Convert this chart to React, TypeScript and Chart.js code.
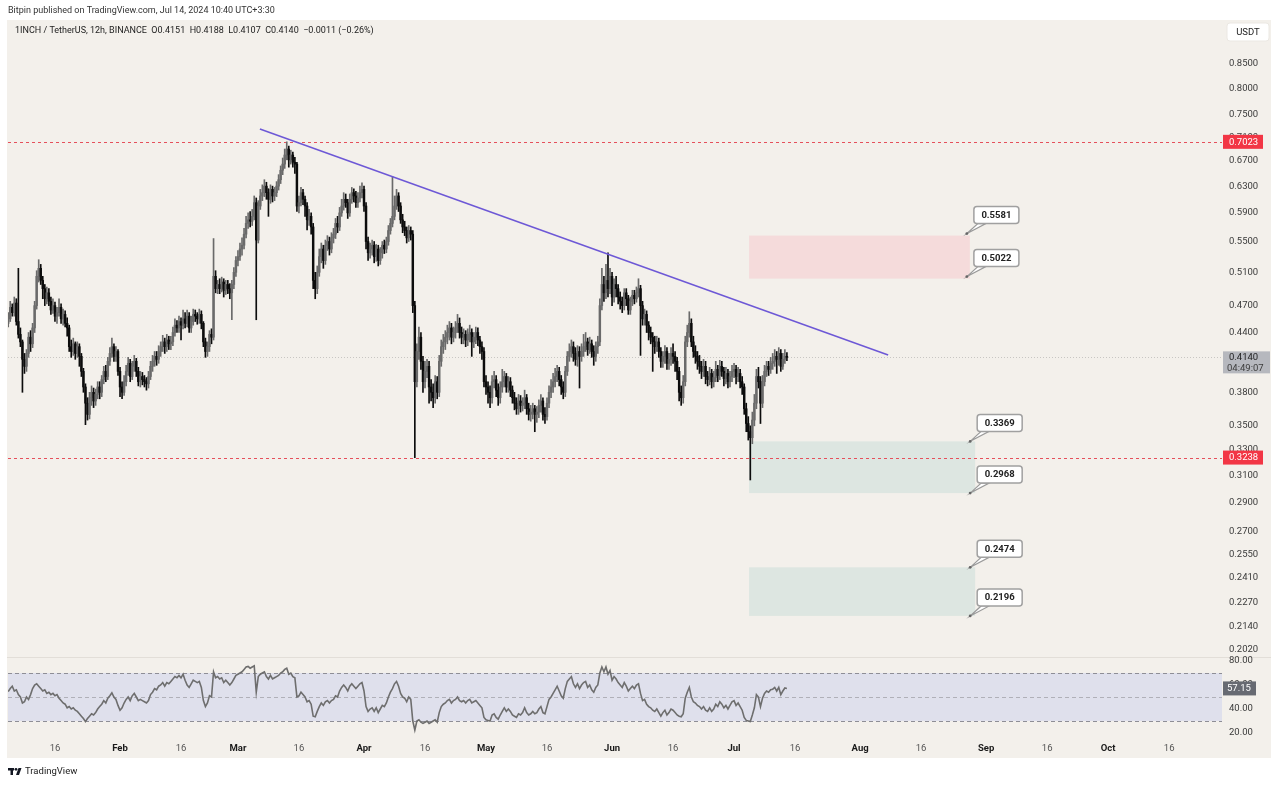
import React, { useEffect, useRef } from 'react';
import { Chart, registerables } from 'chart.js';

Chart.register(...registerables);

// ---- DATA (12h candles, day 0 = Jan 1 2024) ----
const FIRST_DAY = 3.5;
const BAR_DAYS = 0.5;
const firstOpen = 0.45;

const closes = [
  0.455, 0.468, 0.462, 0.473, 0.452, 0.438, 0.430, 0.412, 0.405, 0.418,
  0.435, 0.428, 0.445, 0.470, 0.505, 0.515, 0.500, 0.490, 0.478, 0.485,
  0.475, 0.465, 0.470, 0.458, 0.462, 0.468, 0.455, 0.460, 0.450, 0.445,
  0.425, 0.420, 0.428, 0.418, 0.425, 0.415, 0.400, 0.385, 0.370, 0.360,
  0.375, 0.380, 0.372, 0.378, 0.385, 0.380, 0.392, 0.400, 0.395, 0.410,
  0.418, 0.425, 0.415, 0.420, 0.400, 0.385, 0.380, 0.390, 0.400, 0.408,
  0.395, 0.405, 0.410, 0.400, 0.390, 0.395, 0.392, 0.390, 0.388, 0.395,
  0.405, 0.410, 0.415, 0.412, 0.420, 0.425, 0.430, 0.425, 0.432, 0.428,
  0.430, 0.440, 0.448, 0.445, 0.452, 0.448, 0.455, 0.450, 0.458, 0.445,
  0.452, 0.460, 0.458, 0.455, 0.460, 0.450, 0.430, 0.420, 0.425, 0.438,
  0.435, 0.505, 0.490, 0.495, 0.490, 0.498, 0.488, 0.495, 0.490, 0.485,
  0.495, 0.510, 0.525, 0.530, 0.540, 0.545, 0.560, 0.575, 0.580, 0.578,
  0.585, 0.605, 0.552, 0.600, 0.615, 0.620, 0.630, 0.620, 0.610, 0.625,
  0.615, 0.620, 0.630, 0.640, 0.655, 0.665, 0.680, 0.690, 0.672, 0.680,
  0.668, 0.665, 0.600, 0.605, 0.620, 0.610, 0.600, 0.580, 0.585, 0.570,
  0.500, 0.490, 0.510, 0.530, 0.540, 0.525, 0.545, 0.550, 0.540, 0.555,
  0.560, 0.575, 0.570, 0.590, 0.600, 0.610, 0.605, 0.590, 0.610, 0.620,
  0.615, 0.605, 0.612, 0.620, 0.625, 0.600, 0.550, 0.535, 0.540, 0.545,
  0.530, 0.540, 0.525, 0.535, 0.545, 0.540, 0.550, 0.565, 0.575, 0.585,
  0.600, 0.615, 0.600, 0.580, 0.570, 0.565, 0.555, 0.565, 0.560, 0.470,
  0.390, 0.420, 0.435, 0.410, 0.390, 0.400, 0.405, 0.385, 0.380, 0.375,
  0.390, 0.380, 0.410, 0.425, 0.430, 0.435, 0.440, 0.445, 0.435, 0.440,
  0.445, 0.450, 0.440, 0.435, 0.438, 0.432, 0.438, 0.440, 0.430, 0.435,
  0.440, 0.432, 0.425, 0.420, 0.390, 0.385, 0.380, 0.375, 0.390, 0.392,
  0.382, 0.375, 0.385, 0.390, 0.395, 0.385, 0.390, 0.382, 0.375, 0.370,
  0.365, 0.372, 0.368, 0.370, 0.375, 0.365, 0.360, 0.362, 0.365, 0.360,
  0.362, 0.368, 0.372, 0.360, 0.358, 0.370, 0.380, 0.385, 0.390, 0.395,
  0.400, 0.392, 0.385, 0.380, 0.400, 0.415, 0.420, 0.425, 0.418, 0.412,
  0.420, 0.415, 0.420, 0.425, 0.430, 0.422, 0.428, 0.420, 0.415, 0.425,
  0.430, 0.470, 0.495, 0.485, 0.500, 0.490, 0.505, 0.480, 0.495, 0.490,
  0.480, 0.475, 0.470, 0.485, 0.478, 0.465, 0.475, 0.482, 0.478, 0.485,
  0.490, 0.470, 0.455, 0.460, 0.448, 0.440, 0.435, 0.430, 0.425, 0.430,
  0.420, 0.410, 0.415, 0.420, 0.408, 0.412, 0.418, 0.415, 0.410, 0.400,
  0.380, 0.375, 0.390, 0.430, 0.440, 0.450, 0.430, 0.420, 0.415, 0.410,
  0.405, 0.400, 0.405, 0.395, 0.392, 0.398, 0.390, 0.394, 0.402, 0.396,
  0.405, 0.400, 0.393, 0.398, 0.390, 0.395, 0.400, 0.402, 0.395, 0.398,
  0.390, 0.385, 0.365, 0.352, 0.345, 0.340, 0.355, 0.370, 0.395, 0.390,
  0.370, 0.390, 0.400, 0.405, 0.402, 0.408, 0.410, 0.415, 0.412, 0.418,
  0.405, 0.412, 0.4151, 0.4140,
];

const highs = [
  0.462, 0.475, 0.472, 0.480, 0.478, 0.515, 0.445, 0.432, 0.418, 0.422,
  0.440, 0.442, 0.450, 0.475, 0.512, 0.526, 0.520, 0.505, 0.495, 0.492,
  0.490, 0.480, 0.478, 0.474, 0.468, 0.478, 0.472, 0.466, 0.464, 0.456,
  0.448, 0.432, 0.434, 0.430, 0.430, 0.428, 0.418, 0.403, 0.388, 0.375,
  0.380, 0.386, 0.384, 0.383, 0.390, 0.390, 0.396, 0.405, 0.406, 0.414,
  0.424, 0.434, 0.428, 0.425, 0.422, 0.404, 0.390, 0.396, 0.406, 0.414,
  0.412, 0.410, 0.416, 0.413, 0.404, 0.400, 0.399, 0.396, 0.394, 0.400,
  0.410, 0.416, 0.420, 0.420, 0.426, 0.430, 0.437, 0.434, 0.438, 0.436,
  0.436, 0.446, 0.455, 0.453, 0.458, 0.456, 0.465, 0.462, 0.465, 0.462,
  0.458, 0.466, 0.465, 0.462, 0.466, 0.464, 0.452, 0.434, 0.430, 0.442,
  0.444, 0.554, 0.512, 0.500, 0.502, 0.504, 0.502, 0.500, 0.500, 0.496,
  0.500, 0.516, 0.530, 0.538, 0.548, 0.555, 0.568, 0.585, 0.590, 0.592,
  0.595, 0.615, 0.612, 0.608, 0.625, 0.632, 0.640, 0.636, 0.626, 0.632,
  0.630, 0.628, 0.637, 0.648, 0.662, 0.675, 0.690, 0.7023, 0.695, 0.688,
  0.685, 0.676, 0.668, 0.615, 0.628, 0.625, 0.615, 0.605, 0.595, 0.590,
  0.575, 0.510, 0.518, 0.540, 0.548, 0.545, 0.552, 0.558, 0.556, 0.562,
  0.568, 0.582, 0.585, 0.598, 0.610, 0.620, 0.618, 0.610, 0.618, 0.628,
  0.626, 0.622, 0.620, 0.630, 0.635, 0.630, 0.605, 0.556, 0.548, 0.552,
  0.550, 0.546, 0.545, 0.542, 0.550, 0.552, 0.556, 0.572, 0.582, 0.645,
  0.615, 0.625, 0.620, 0.605, 0.588, 0.578, 0.570, 0.572, 0.570, 0.565,
  0.475, 0.428, 0.446, 0.440, 0.415, 0.410, 0.412, 0.410, 0.392, 0.388,
  0.396, 0.395, 0.416, 0.432, 0.438, 0.442, 0.448, 0.452, 0.450, 0.446,
  0.452, 0.460, 0.456, 0.446, 0.444, 0.442, 0.444, 0.448, 0.444, 0.440,
  0.446, 0.445, 0.436, 0.430, 0.424, 0.396, 0.390, 0.386, 0.396, 0.400,
  0.396, 0.388, 0.390, 0.402, 0.400, 0.398, 0.395, 0.394, 0.386, 0.380,
  0.375, 0.378, 0.377, 0.375, 0.382, 0.378, 0.370, 0.368, 0.370, 0.368,
  0.367, 0.373, 0.378, 0.375, 0.366, 0.375, 0.386, 0.392, 0.398, 0.403,
  0.406, 0.404, 0.396, 0.390, 0.405, 0.420, 0.428, 0.432, 0.430, 0.424,
  0.426, 0.425, 0.428, 0.438, 0.440, 0.434, 0.435, 0.432, 0.426, 0.430,
  0.436, 0.478, 0.515, 0.505, 0.520, 0.535, 0.515, 0.510, 0.502, 0.505,
  0.495, 0.486, 0.480, 0.490, 0.490, 0.482, 0.480, 0.488, 0.488, 0.492,
  0.502, 0.494, 0.475, 0.466, 0.464, 0.452, 0.446, 0.440, 0.436, 0.436,
  0.434, 0.424, 0.420, 0.426, 0.424, 0.418, 0.424, 0.428, 0.420, 0.414,
  0.404, 0.386, 0.396, 0.436, 0.448, 0.463, 0.455, 0.436, 0.426, 0.420,
  0.416, 0.410, 0.412, 0.410, 0.400, 0.404, 0.402, 0.400, 0.410, 0.406,
  0.411, 0.410, 0.404, 0.404, 0.402, 0.400, 0.406, 0.408, 0.406, 0.404,
  0.402, 0.395, 0.388, 0.370, 0.358, 0.350, 0.362, 0.378, 0.402, 0.404,
  0.395, 0.396, 0.406, 0.410, 0.410, 0.414, 0.418, 0.422, 0.420, 0.424,
  0.422, 0.418, 0.422, 0.4188,
];

const lows = [
  0.446, 0.452, 0.458, 0.458, 0.448, 0.434, 0.425, 0.380, 0.398, 0.400,
  0.414, 0.420, 0.424, 0.440, 0.466, 0.498, 0.495, 0.478, 0.470, 0.472,
  0.470, 0.460, 0.461, 0.452, 0.450, 0.458, 0.450, 0.448, 0.446, 0.436,
  0.420, 0.414, 0.416, 0.412, 0.414, 0.405, 0.395, 0.380, 0.351, 0.355,
  0.356, 0.368, 0.366, 0.368, 0.374, 0.374, 0.376, 0.388, 0.390, 0.392,
  0.406, 0.414, 0.410, 0.410, 0.396, 0.376, 0.374, 0.377, 0.386, 0.396,
  0.390, 0.392, 0.400, 0.395, 0.386, 0.385, 0.387, 0.385, 0.382, 0.384,
  0.392, 0.400, 0.405, 0.406, 0.408, 0.415, 0.420, 0.418, 0.420, 0.422,
  0.422, 0.426, 0.436, 0.440, 0.440, 0.432, 0.444, 0.445, 0.446, 0.440,
  0.440, 0.448, 0.452, 0.449, 0.450, 0.444, 0.425, 0.414, 0.415, 0.420,
  0.428, 0.432, 0.485, 0.484, 0.484, 0.486, 0.480, 0.483, 0.484, 0.478,
  0.454, 0.490, 0.505, 0.518, 0.525, 0.532, 0.540, 0.555, 0.568, 0.570,
  0.572, 0.580, 0.454, 0.548, 0.595, 0.608, 0.614, 0.610, 0.585, 0.604,
  0.606, 0.608, 0.614, 0.624, 0.634, 0.648, 0.658, 0.672, 0.660, 0.665,
  0.660, 0.650, 0.592, 0.590, 0.600, 0.602, 0.585, 0.566, 0.572, 0.560,
  0.490, 0.478, 0.484, 0.505, 0.522, 0.515, 0.520, 0.538, 0.532, 0.535,
  0.548, 0.554, 0.562, 0.565, 0.585, 0.594, 0.598, 0.582, 0.585, 0.604,
  0.606, 0.598, 0.598, 0.606, 0.612, 0.592, 0.540, 0.525, 0.528, 0.532,
  0.522, 0.524, 0.518, 0.520, 0.528, 0.534, 0.535, 0.545, 0.560, 0.570,
  0.580, 0.595, 0.592, 0.575, 0.562, 0.558, 0.548, 0.550, 0.552, 0.462,
  0.3238, 0.385, 0.412, 0.402, 0.380, 0.384, 0.394, 0.370, 0.372, 0.366,
  0.370, 0.374, 0.376, 0.405, 0.418, 0.422, 0.428, 0.432, 0.428, 0.430,
  0.434, 0.440, 0.434, 0.428, 0.428, 0.425, 0.426, 0.430, 0.415, 0.424,
  0.428, 0.426, 0.418, 0.412, 0.385, 0.378, 0.370, 0.366, 0.370, 0.384,
  0.376, 0.368, 0.370, 0.380, 0.385, 0.380, 0.380, 0.376, 0.370, 0.364,
  0.360, 0.360, 0.362, 0.363, 0.365, 0.360, 0.355, 0.354, 0.356, 0.345,
  0.353, 0.357, 0.362, 0.355, 0.352, 0.355, 0.366, 0.375, 0.380, 0.385,
  0.390, 0.386, 0.378, 0.374, 0.376, 0.396, 0.410, 0.414, 0.410, 0.406,
  0.405, 0.384, 0.410, 0.415, 0.420, 0.416, 0.418, 0.414, 0.406, 0.410,
  0.418, 0.426, 0.465, 0.475, 0.478, 0.480, 0.484, 0.470, 0.474, 0.480,
  0.472, 0.466, 0.462, 0.465, 0.470, 0.460, 0.460, 0.470, 0.472, 0.474,
  0.480, 0.416, 0.448, 0.448, 0.440, 0.432, 0.428, 0.400, 0.418, 0.420,
  0.414, 0.404, 0.404, 0.408, 0.402, 0.402, 0.406, 0.408, 0.400, 0.392,
  0.372, 0.368, 0.370, 0.386, 0.425, 0.435, 0.425, 0.414, 0.408, 0.402,
  0.398, 0.393, 0.395, 0.388, 0.386, 0.387, 0.384, 0.385, 0.390, 0.390,
  0.392, 0.395, 0.386, 0.388, 0.384, 0.385, 0.390, 0.394, 0.388, 0.390,
  0.384, 0.378, 0.360, 0.345, 0.338, 0.3065, 0.335, 0.350, 0.365, 0.384,
  0.352, 0.366, 0.386, 0.395, 0.396, 0.398, 0.402, 0.405, 0.398, 0.406,
  0.400, 0.402, 0.408, 0.4107,
];

const rsiValues = [
  54.5, 57, 59, 55, 56, 52, 50, 45, 46, 50,
  48, 52, 57, 60, 61, 59, 57, 55, 56, 53,
  54, 52, 53, 51, 52, 49, 47, 45, 44, 41,
  42, 40, 41, 39, 38, 36, 34, 32, 29.5, 32,
  34, 36, 35, 37, 40, 42, 44, 47, 45, 49,
  51, 53.5, 50, 48, 43, 39, 41, 45, 48, 50,
  47, 51, 53, 50, 47, 48, 47, 46, 45, 47,
  52, 54, 57, 56, 59, 60, 62, 59, 62, 61,
  63, 65, 67, 66, 68, 66, 69, 64, 60, 58,
  61, 64, 63, 62, 63, 58, 47, 42, 45, 51,
  50, 71, 66, 67, 65, 66, 62, 64, 62, 60,
  62, 65, 68, 69, 70, 71, 73, 75, 75.5, 74,
  75, 76, 54, 67, 69, 70, 71, 67, 65, 68,
  65, 66, 67, 68, 70, 71, 73, 74, 69, 70,
  67, 66, 50, 51, 54, 52, 50, 46, 47, 44,
  34, 33.5, 38, 42, 45, 43, 46, 47, 45, 47,
  48, 51, 50, 55, 58, 60, 58, 55, 59, 61,
  59, 57, 59, 61, 62, 55, 42, 38, 40, 41,
  38, 41, 37, 40, 43, 42, 45, 50, 54, 57,
  61, 63, 59, 53, 50, 49, 46, 50, 48, 30,
  22.5, 30, 31, 29, 28, 29, 30, 28, 29, 30,
  31, 29, 37, 42, 44, 45, 47, 48, 45, 47,
  48, 50, 47, 46, 47, 45, 47, 48, 45, 46,
  47, 45, 43, 41, 33, 31, 30.5, 30, 35, 36,
  33, 31.5, 35, 38, 41, 38, 40, 38, 35, 34,
  33, 36, 35, 37, 41, 37, 35, 36, 38, 36,
  37, 40, 42, 37, 36, 42, 48, 50, 53, 56,
  59, 55, 51, 49, 57, 63, 65, 67, 61, 58,
  61, 57, 60, 62, 63, 58, 60, 56, 54, 58,
  60, 70, 75, 71, 75, 69, 72, 64, 67, 65,
  62, 60, 58, 62, 59, 55, 57, 59, 57, 60,
  61, 53, 47, 48, 44, 42, 41, 39, 38, 40,
  37, 34, 37, 39, 35, 37, 40, 39, 37, 35,
  34, 33.5, 36, 49, 54, 58, 50, 46, 45, 43,
  42, 40, 42, 39, 38, 41, 38, 40, 44, 42,
  46, 44, 41, 43, 40, 43, 46, 47, 43, 45,
  42, 39, 33, 30.5, 30, 29.5, 35, 41, 52, 50,
  42, 49, 53, 55, 54, 56, 56.5, 58, 55, 58,
  52, 55, 57.5, 57.15,
];

const xTickDays = [15, 31, 46, 60, 75, 91, 106, 121, 136, 152, 167, 182, 197, 213, 228, 244, 259, 274, 289];
const xTickLabels = ['16', 'Feb', '16', 'Mar', '16', 'Apr', '16', 'May', '16', 'Jun', '16', 'Jul', '16', 'Aug', '16', 'Sep', '16', 'Oct', '16'];
const priceTicks = [0.85, 0.8, 0.75, 0.71, 0.67, 0.63, 0.59, 0.55, 0.51, 0.47, 0.44, 0.38, 0.35, 0.33, 0.31, 0.29, 0.27, 0.255, 0.241, 0.227, 0.214, 0.202];
const rsiTicks = [80, 60, 40, 20];
const rsiBands = [70, 50, 30];

const levelLines = [0.7023, 0.3238];
const redZone = [0.5581, 0.5022];
const greenZones = [[0.3369, 0.2968], [0.2474, 0.2196]];
const zoneStartDay = 185.7;
const redZoneEndDay = 240.0;
const greenZoneEndDay = 241.3;
const trendLine = [[65.4, 0.7248], [219.9, 0.4164]];

const lastPrice = 0.414;
const countdown = '04:49:07';
const lastRsi = 57.15;

const headerText = 'Bitpin published on TradingView.com, Jul 14, 2024 10:40 UTC+3:30';
const symbolText = '1INCH / TetherUS, 12h, BINANCE  O0.4151  H0.4188  L0.4107  C0.4140  \u22120.0011 (\u22120.26%)';

// ---- STYLE ----
const BEIGE = '#f3f0eb';
const FONT = 'Roboto, "Open Sans", sans-serif';
const UP = '#6a6a6a';
const DOWN = '#0c0c0c';

const X_MIN = 3.45;
const X_MAX = 302;
const Y_MIN = 0.162;
const Y_MAX = 0.9468;
const RSI_MIN = 14.17;
const RSI_MAX = 614.17;

function drawCallout(ctx: CanvasRenderingContext2D, ax: number, ay: number, text: string) {
  const bx = ax + 7;
  const by = ay - 27;
  const w = 45;
  const h = 17;
  ctx.save();
  ctx.beginPath();
  ctx.moveTo(ax, ay);
  ctx.lineTo(bx + 4, by + h);
  ctx.lineTo(bx + 12, by + h);
  ctx.closePath();
  ctx.fillStyle = '#ffffff';
  ctx.fill();
  ctx.strokeStyle = '#9a9a9a';
  ctx.lineWidth = 1.2;
  ctx.stroke();
  ctx.beginPath();
  ctx.roundRect(bx, by, w, h, 3);
  ctx.fillStyle = '#ffffff';
  ctx.fill();
  ctx.lineWidth = 1.5;
  ctx.strokeStyle = '#a0a0a0';
  ctx.stroke();
  ctx.beginPath();
  ctx.arc(ax, ay, 1.4, 0, Math.PI * 2);
  ctx.fillStyle = '#666';
  ctx.fill();
  ctx.fillStyle = '#222';
  ctx.font = `bold 9.5px ${FONT}`;
  ctx.textAlign = 'center';
  ctx.textBaseline = 'middle';
  ctx.fillText(text, bx + w / 2, by + h / 2 + 0.5);
  ctx.restore();
}

const overlayPlugin = {
  id: 'overlay',
  beforeDraw(chart: any) {
    const ctx: CanvasRenderingContext2D = chart.ctx;
    ctx.save();
    ctx.fillStyle = '#ffffff';
    ctx.fillRect(0, 0, chart.width, chart.height);
    ctx.fillStyle = BEIGE;
    ctx.fillRect(7, 20, 1264, 738);
    ctx.fillStyle = '#333';
    ctx.font = `9px ${FONT}`;
    ctx.textBaseline = 'middle';
    ctx.textAlign = 'left';
    ctx.fillText(headerText, 8, 11);
    ctx.fillStyle = '#222';
    ctx.font = `9px ${FONT}`;
    ctx.fillText(symbolText, 15, 31);
    ctx.strokeStyle = '#e2ded8';
    ctx.lineWidth = 1;
    ctx.beginPath();
    ctx.moveTo(7, 657.5);
    ctx.lineTo(1271, 657.5);
    ctx.stroke();
    ctx.restore();
  },
  beforeDatasetsDraw(chart: any) {
    const ctx: CanvasRenderingContext2D = chart.ctx;
    const xs = chart.scales.x;
    const ys = chart.scales.y;
    const rs = chart.scales.yRsi;
    const area = chart.chartArea;
    ctx.save();
    const zx0 = xs.getPixelForValue(zoneStartDay);
    const rx1 = xs.getPixelForValue(redZoneEndDay);
    const gx1 = xs.getPixelForValue(greenZoneEndDay);
    ctx.fillStyle = '#f5dbdb';
    const ry0 = ys.getPixelForValue(redZone[0]);
    const ry1 = ys.getPixelForValue(redZone[1]);
    ctx.fillRect(zx0, ry0, rx1 - zx0, ry1 - ry0);
    ctx.fillStyle = '#dde6e1';
    greenZones.forEach(([a, b]) => {
      const y0 = ys.getPixelForValue(a);
      const y1 = ys.getPixelForValue(b);
      ctx.fillRect(zx0, y0, gx1 - zx0, y1 - y0);
    });
    const b70 = rs.getPixelForValue(rsiBands[0]);
    const b30 = rs.getPixelForValue(rsiBands[2]);
    ctx.fillStyle = '#dfe0ec';
    ctx.fillRect(area.left, b70, area.right - area.left, b30 - b70);
    ctx.setLineDash([4, 3]);
    ctx.lineWidth = 1;
    rsiBands.forEach((v, i) => {
      const y = Math.round(rs.getPixelForValue(v)) + 0.5;
      ctx.strokeStyle = i === 1 ? '#b0b0b8' : '#8e8e96';
      ctx.beginPath();
      ctx.moveTo(area.left, y);
      ctx.lineTo(area.right, y);
      ctx.stroke();
    });
    ctx.setLineDash([1, 2]);
    ctx.strokeStyle = 'rgba(120,120,120,0.35)';
    const ly = Math.round(ys.getPixelForValue(lastPrice)) + 0.5;
    ctx.beginPath();
    ctx.moveTo(area.left, ly);
    ctx.lineTo(area.right, ly);
    ctx.stroke();
    ctx.setLineDash([3, 3]);
    ctx.strokeStyle = '#e5505b';
    levelLines.forEach((v) => {
      const y = Math.round(ys.getPixelForValue(v)) + 0.5;
      ctx.beginPath();
      ctx.moveTo(area.left, y);
      ctx.lineTo(area.right, y);
      ctx.stroke();
    });
    ctx.restore();
  },
  afterDatasetsDraw(chart: any) {
    const ctx: CanvasRenderingContext2D = chart.ctx;
    const xs = chart.scales.x;
    const ys = chart.scales.y;
    ctx.save();
    ctx.strokeStyle = '#6d58d6';
    ctx.lineWidth = 1.5;
    ctx.beginPath();
    ctx.moveTo(xs.getPixelForValue(trendLine[0][0]), ys.getPixelForValue(trendLine[0][1]));
    ctx.lineTo(xs.getPixelForValue(trendLine[1][0]), ys.getPixelForValue(trendLine[1][1]));
    ctx.stroke();
    ctx.restore();
    const rxe = xs.getPixelForValue(redZoneEndDay);
    const gxe = xs.getPixelForValue(greenZoneEndDay);
    redZone.forEach((v) => drawCallout(ctx, rxe - 3, ys.getPixelForValue(v) - 2, v.toFixed(4)));
    greenZones.forEach((z) => z.forEach((v) => drawCallout(ctx, gxe - 5, ys.getPixelForValue(v), v.toFixed(4))));
  },
  afterDraw(chart: any) {
    const ctx: CanvasRenderingContext2D = chart.ctx;
    const ys = chart.scales.y;
    const rs = chart.scales.yRsi;
    const area = chart.chartArea;
    const lx = area.right;
    ctx.save();
    ctx.textBaseline = 'middle';
    ctx.textAlign = 'left';
    ctx.font = `9.5px ${FONT}`;
    ctx.fillStyle = '#3a3a3a';
    rsiTicks.forEach((v) => ctx.fillText(v.toFixed(2), lx + 7, rs.getPixelForValue(v)));
    levelLines.forEach((v) => {
      const y = ys.getPixelForValue(v);
      ctx.fillStyle = '#f23645';
      ctx.fillRect(lx + 1, y - 7, 40, 14);
      ctx.fillStyle = '#ffffff';
      ctx.fillText(v.toFixed(4), lx + 7, y + 0.5);
    });
    const py = ys.getPixelForValue(lastPrice);
    ctx.fillStyle = '#b6b8be';
    ctx.fillRect(lx + 1, py - 6, 47, 22);
    ctx.fillStyle = '#1e1e1e';
    ctx.fillText(lastPrice.toFixed(4), lx + 7, py + 0.5);
    ctx.fillStyle = '#3c3c3c';
    ctx.fillText(countdown, lx + 5, py + 11);
    const ry = rs.getPixelForValue(lastRsi);
    ctx.fillStyle = '#676a72';
    ctx.fillRect(lx + 1, ry - 7, 33, 14);
    ctx.fillStyle = '#ffffff';
    ctx.fillText(lastRsi.toFixed(2), lx + 5, ry + 0.5);
    ctx.beginPath();
    ctx.roundRect(1227, 23, 42, 18, 3);
    ctx.fillStyle = '#ffffff';
    ctx.fill();
    ctx.strokeStyle = '#ebe8e3';
    ctx.stroke();
    ctx.fillStyle = '#222';
    ctx.textAlign = 'center';
    ctx.fillText('USDT', 1248, 32.5);
    ctx.textAlign = 'left';
    ctx.fillStyle = '#131722';
    ctx.fillRect(8, 768, 6, 2.5);
    ctx.fillRect(10.5, 768, 2.5, 7);
    ctx.beginPath();
    ctx.arc(16, 769.3, 1.4, 0, Math.PI * 2);
    ctx.fill();
    ctx.beginPath();
    ctx.moveTo(18.5, 768);
    ctx.lineTo(21.5, 768);
    ctx.lineTo(19, 775);
    ctx.lineTo(16, 775);
    ctx.closePath();
    ctx.fill();
    ctx.font = `9.5px ${FONT}`;
    ctx.fillStyle = '#222';
    ctx.fillText('TradingView', 25, 772);
    ctx.restore();
  },
};

export default function App() {
  const canvasRef = useRef<HTMLCanvasElement | null>(null);

  useEffect(() => {
    const canvas = canvasRef.current;
    if (!canvas) return;
    const days = closes.map((_, i) => FIRST_DAY + i * BAR_DAYS);
    const opens = closes.map((_, i) => (i === 0 ? firstOpen : closes[i - 1]));
    const colors = closes.map((c, i) => (c >= opens[i] ? UP : DOWN));
    const wickData = days.map((d, i) => ({
      x: d,
      y: [Math.min(lows[i], opens[i], closes[i]), Math.max(highs[i], opens[i], closes[i])],
    }));
    const bodyData = days.map((d, i) => ({ x: d, y: [opens[i], closes[i]] }));
    const rsiData = days.map((d, i) => ({ x: d, y: rsiValues[i] }));

    const chart = new Chart(canvas, {
      type: 'bar',
      data: {
        datasets: [
          {
            type: 'line',
            data: rsiData as any,
            xAxisID: 'x',
            yAxisID: 'yRsi',
            borderColor: '#6e6e6e',
            borderWidth: 1.6,
            pointRadius: 0,
            tension: 0,
            order: 0,
          } as any,
          {
            type: 'bar',
            data: bodyData as any,
            xAxisID: 'x',
            yAxisID: 'y',
            backgroundColor: colors,
            borderWidth: 0,
            barThickness: 1.8,
            grouped: false,
            order: 1,
          } as any,
          {
            type: 'bar',
            data: wickData as any,
            xAxisID: 'x',
            yAxisID: 'y',
            backgroundColor: colors,
            borderWidth: 0,
            barThickness: 1,
            grouped: false,
            order: 2,
          } as any,
        ],
      },
      options: {
        animation: false,
        responsive: false,
        devicePixelRatio: 1,
        events: [],
        layout: { padding: { left: 8, top: 20, right: 0, bottom: 25 } },
        plugins: { legend: { display: false }, tooltip: { enabled: false } },
        scales: {
          x: {
            type: 'linear',
            axis: 'x',
            position: 'bottom',
            min: X_MIN,
            max: X_MAX,
            offset: false,
            bounds: 'data',
            grid: { display: false, drawTicks: false },
            border: { display: false },
            afterBuildTicks: (s: any) => {
              s.ticks = xTickDays.map((v) => ({ value: v }));
            },
            afterFit: (s: any) => {
              s.height = 20;
            },
            ticks: {
              autoSkip: false,
              maxRotation: 0,
              padding: 3,
              color: (c: any) => (/^[A-Z]/.test(xTickLabels[c.index] || '') ? '#1a1a1a' : '#555'),
              font: (c: any) => ({
                family: FONT,
                size: 9.5,
                weight: /^[A-Z]/.test(xTickLabels[c.index] || '') ? 'bold' : 'normal',
              }),
              callback: (_v: any, i: number) => xTickLabels[i],
            },
          },
          y: {
            type: 'logarithmic',
            axis: 'y',
            position: 'right',
            min: Y_MIN,
            max: Y_MAX,
            bounds: 'data',
            grid: { display: false, drawTicks: false },
            border: { display: false },
            afterBuildTicks: (s: any) => {
              s.ticks = priceTicks.map((v) => ({ value: v }));
            },
            afterFit: (s: any) => {
              s.width = 58;
            },
            ticks: {
              autoSkip: false,
              padding: 7,
              color: '#3a3a3a',
              font: { family: FONT, size: 9.5 },
              callback: (v: any) => Number(v).toFixed(4),
            },
          },
          yRsi: {
            type: 'linear',
            axis: 'y',
            position: 'right',
            display: false,
            min: RSI_MIN,
            max: RSI_MAX,
            bounds: 'data',
          },
        },
      } as any,
      plugins: [overlayPlugin],
    });
    return () => chart.destroy();
  }, []);

  return (
    <div style={{ position: 'fixed', left: 0, top: 0, width: 1280, height: 785, background: '#fff' }}>
      <canvas ref={canvasRef} width={1280} height={785} style={{ display: 'block' }} />
    </div>
  );
}
